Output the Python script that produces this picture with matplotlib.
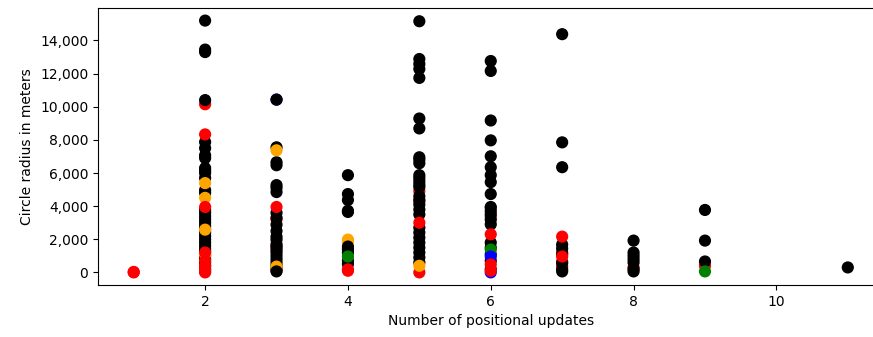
import matplotlib
matplotlib.use("Agg")
import matplotlib.pyplot as plt
from matplotlib.ticker import FuncFormatter

# Points in drawing order: number of positional updates, radius (m), colour
updates = []
radius = []
colors = []

def add(x, ys, c):
    for y in ys:
        updates.append(x)
        radius.append(y)
        colors.append(c)

# x = 1
add(1, [0, 30], "red")
# x = 2
add(2, [10150], "red")
add(2, [15200, 13300, 13450, 10400, 7870, 7500, 7070, 6900, 6300, 6150, 6000, 5700,
        4970, 4800, 3770, 3600, 3400, 3200, 3000, 2800, 2600, 2400, 2200, 2000,
        1800, 1600, 1400, 1250, 1000, 800, 600, 400, 200], "black")
add(2, [5390, 4500, 2580, 1080], "orange")
add(2, [8330, 3950, 1200, 700, 400, 150, 0, 50], "red")
# x = 3
add(3, [10430], "blue")
add(3, [3200, 1500, 100], "red")
add(3, [10430, 7550, 6650, 6470, 5270, 5100, 4850, 3600, 3300, 2880, 2500, 2160,
        1980, 1700, 1560, 1350, 1200, 1000, 800, 600, 400, 200], "black")
add(3, [7370, 350], "orange")
add(3, [3950], "red")
add(3, [60], "black")
# x = 4
add(4, [5870, 4730, 4370, 3720, 3650], "black")
add(4, [1980, 1860], "orange")
add(4, [1560, 1400, 1200, 700, 500], "black")
add(4, [960], "green")
add(4, [180, 100], "red")
# x = 5
add(5, [4900, 4300], "red")
add(5, [15160, 12880, 12580, 12280, 11740, 9290, 8690, 6950, 6800, 6590, 5870,
        5700, 5500, 5300, 5150, 4600, 4370, 4100, 3800, 3500, 2700, 2400, 2100,
        1800, 1500, 1200, 900, 600], "black")
add(5, [3000], "red")
add(5, [0], "red")
add(5, [400], "orange")
# x = 6
add(6, [3900, 3350], "red")
add(6, [12760, 12160, 9170, 7970, 7010, 6350, 5870, 5450, 4730, 3950, 3700, 3500,
        3180, 2900, 1800, 1500, 1100, 700, 200], "black")
add(6, [2300], "red")
add(6, [1380], "green")
add(6, [960, 0], "blue")
add(6, [480, 100], "red")
# x = 7
add(7, [1200, 660, 360], "red")
add(7, [14380, 7850, 6350, 1680, 1440, 1100, 560, 180, 60], "black")
add(7, [2160, 960], "red")
# x = 8
add(8, [300], "red")
add(8, [1920, 1200, 1000, 800, 600, 200, 60], "black")
# x = 9
add(9, [400], "red")
add(9, [3770, 1920, 660], "black")
add(9, [60], "green")
# x = 11
add(11, [300], "black")

x_label = "Number of positional updates"
y_label = "Circle radius in meters"

fig = plt.figure(figsize=(8.73, 3.37), dpi=100)
ax = fig.add_axes([98 / 873, 1 - 285 / 337, (883.5 - 98) / 873, (285 - 8) / 337])
ax.scatter(updates, radius, c=colors, s=60)
ax.set_xlabel(x_label)
ax.set_ylabel(y_label)
ax.yaxis.set_major_formatter(FuncFormatter(lambda v, p: f"{v:,.0f}"))
fig.savefig("out.png", dpi=100)
